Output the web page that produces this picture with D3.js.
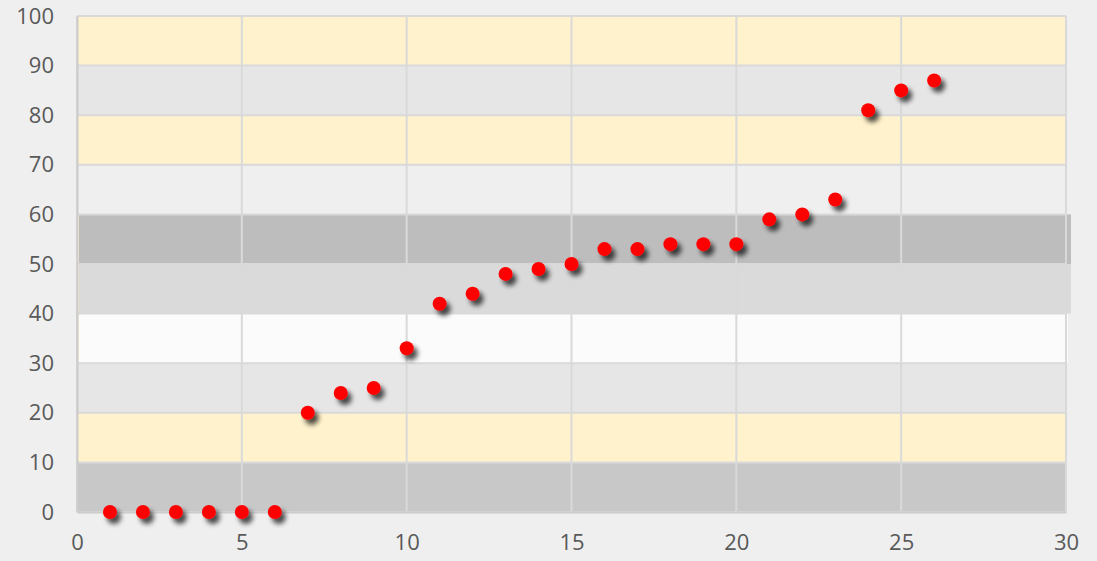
<!DOCTYPE html>
<html><head><meta charset="utf-8">
<script src="https://cdn.jsdelivr.net/npm/d3@7"></script>
<style>body{margin:0;background:#efefef;} svg{display:block;}</style>
</head><body>
<svg id="c" width="1097" height="561"></svg>
<script>
const xValues = [1,2,3,4,5,6,7,8,9,10,11,12,13,14,15,16,17,18,19,20,21,22,23,24,25,26];
const yValues = [0,0,0,0,0,0,20,24,25,33,42,44,48,49,50,53,53,54,54,54,59,60,63,81,85,87];
const xTicks = [0,5,10,15,20,25,30];
const yTicks = [0,10,20,30,40,50,60,70,80,90,100];
const bandLows = [0,10,20,30,40,50,60,70,80,90];
const bandColors = ["#c8c8c8","#fff2cc","#e6e6e6","#fbfbfb","#dadada","#bdbdbd","#efefef","#fff2cc","#e6e6e6","#fff2cc"];

const svg = d3.select("#c");
const x = d3.scaleLinear().domain([0,30]).range([77,1066]);
const y = d3.scaleLinear().domain([0,100]).range([512,16]);

svg.append("rect").attr("width",1097).attr("height",561).attr("fill","#efefef");

svg.append("rect").attr("x",x(0)).attr("y",y(60)).attr("width",4).attr("height",y(30)-y(60)).attr("fill","#fff2cc");

svg.selectAll("rect.band").data(bandLows).join("rect")
  .attr("class","band")
  .attr("x",(d)=> (d>=30 && d<60) ? x(0)+2 : x(0))
  .attr("y",d=>y(d+10))
  .attr("width",(d)=> (d>=40 && d<60) ? x(30)-x(0)+3 : x(30)-x(0))
  .attr("height",d=>y(d)-y(d+10))
  .attr("fill",(d,i)=>bandColors[i]);

svg.append("g").selectAll("line").data(yTicks).join("line")
  .attr("x1",x(0)).attr("x2",x(30)).attr("y1",d=>y(d)).attr("y2",d=>y(d))
  .attr("stroke","#d9d9d9").attr("stroke-width",2);
svg.append("g").selectAll("line").data(xTicks).join("line")
  .attr("y1",y(0)).attr("y2",y(100)).attr("x1",d=>x(d)).attr("x2",d=>x(d))
  .attr("stroke","#d9d9d9").attr("stroke-width",2);

const yAxis = svg.append("g").attr("transform",`translate(${x(0)},0)`)
  .call(d3.axisLeft(y).tickValues(yTicks).tickSize(0).tickPadding(23));
const xAxis = svg.append("g").attr("transform",`translate(0,${y(0)})`)
  .call(d3.axisBottom(x).tickValues(xTicks).tickSize(0).tickPadding(22));
[yAxis,xAxis].forEach(a=>{
  a.select(".domain").attr("stroke","#cccccc").attr("stroke-width",2);
  a.selectAll("text").attr("fill","#595959").style("font-family","'Open Sans', sans-serif").style("font-size","22px");
});

const defs = svg.append("defs");
const f = defs.append("filter").attr("id","sh").attr("x","-80%").attr("y","-80%").attr("width","300%").attr("height","300%");
f.append("feGaussianBlur").attr("in","SourceAlpha").attr("stdDeviation",2.8);
f.append("feOffset").attr("dx",4).attr("dy",5).attr("result","ob");
f.append("feComponentTransfer").append("feFuncA").attr("type","linear").attr("slope",0.7);
const m = f.append("feMerge");
m.append("feMergeNode");
m.append("feMergeNode").attr("in","SourceGraphic");

svg.append("g").selectAll("circle").data(xValues).join("circle")
  .attr("cx",d=>x(d)).attr("cy",(d,i)=>y(yValues[i])).attr("r",7)
  .attr("fill","#ff0000").attr("filter","url(#sh)");
</script>
</body></html>
